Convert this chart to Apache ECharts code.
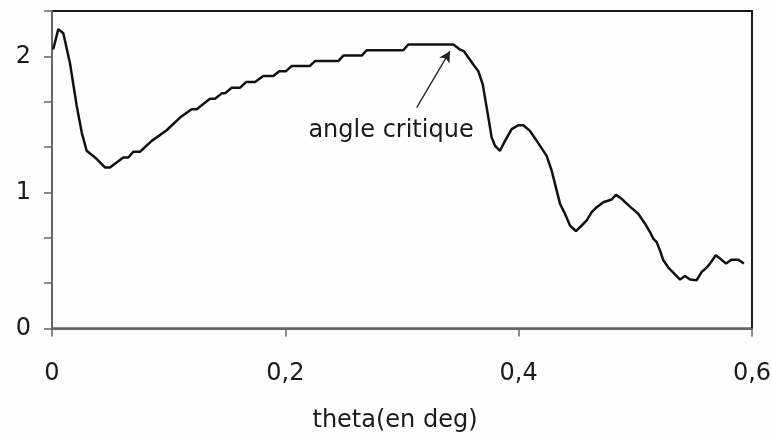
<!DOCTYPE html>
<html>
<head>
<meta charset="utf-8">
<script src="https://cdn.jsdelivr.net/npm/echarts@6/dist/echarts.min.js"></script>
<style>
  html, body { margin: 0; padding: 0; background: #fdfdfd; }
  #chart { width: 772px; height: 437px; }
</style>
</head>
<body>
<div id="chart"></div>
<script>
// Angle (deg) and measured response
const theta = [0.001, 0.0054, 0.0097, 0.0154, 0.0212, 0.0255, 0.0297, 0.0369, 0.0454, 0.0497,
  0.0611, 0.0654, 0.0697, 0.0754, 0.0855, 0.0983, 0.1097, 0.1197, 0.124, 0.1354,
  0.1397, 0.1455, 0.1483, 0.154, 0.1611, 0.1663, 0.174, 0.1811, 0.1897, 0.1948,
  0.2006, 0.2055, 0.2211, 0.2254, 0.2454, 0.2497, 0.2655, 0.2697, 0.3011, 0.3054,
  0.344, 0.3497, 0.3531, 0.3611, 0.3654, 0.3692, 0.3726, 0.3769, 0.3797, 0.384,
  0.3883, 0.394, 0.3997, 0.404, 0.4097, 0.4155, 0.424, 0.4283, 0.4326, 0.4354,
  0.4397, 0.444, 0.4491, 0.454, 0.4583, 0.4626, 0.4669, 0.4726, 0.4797, 0.4834,
  0.4883, 0.4954, 0.5025, 0.5083, 0.5126, 0.5154, 0.5183, 0.5211, 0.524, 0.5283,
  0.534, 0.5383, 0.5426, 0.5469, 0.5526, 0.5569, 0.5612, 0.564, 0.5689, 0.5726,
  0.5777, 0.5826, 0.5883, 0.5931];
const signal = [2.05, 2.20, 2.17, 1.95, 1.635, 1.44, 1.306, 1.257, 1.184, 1.184,
  1.257, 1.257, 1.299, 1.299, 1.379, 1.457, 1.55, 1.611, 1.611, 1.689,
  1.689, 1.728, 1.728, 1.769, 1.769, 1.811, 1.811, 1.855, 1.855, 1.891,
  1.891, 1.93, 1.93, 1.965, 1.965, 2.006, 2.006, 2.045, 2.045, 2.087,
  2.087, 2.05, 2.038, 1.94, 1.891, 1.794, 1.623, 1.403, 1.343, 1.306,
  1.379, 1.465, 1.494, 1.494, 1.452, 1.379, 1.269, 1.16, 1.013, 0.918,
  0.843, 0.757, 0.716, 0.757, 0.794, 0.855, 0.891, 0.928, 0.948, 0.982,
  0.953, 0.896, 0.843, 0.77, 0.708, 0.66, 0.635, 0.574, 0.501, 0.448,
  0.397, 0.36, 0.386, 0.36, 0.355, 0.416, 0.448, 0.477, 0.538, 0.514,
  0.477, 0.506, 0.506, 0.477];

const xTickValues = [0, 0.2, 0.4, 0.6];
const xTickLabels = ['0', '0,2', '0,4', '0,6'];
const yTickLabels = ['0', '1', '2'];

// Annotation: arrow pointing at the critical angle
const arrowTail = [0.3126, 1.623];
const arrowTip = [0.3411, 2.038];
const noteAnchor = [0.2906, 1.456];
const noteText = 'angle critique';

const font = 'DejaVu Sans, Liberation Sans, Arial, sans-serif';

const chart = echarts.init(document.getElementById('chart'), null, { renderer: 'canvas' });
chart.setOption({
  animation: false,
  backgroundColor: '#fdfdfd',
  grid: {
    left: 52, right: 20, top: 11, bottom: 108.5,
    containLabel: false, outerBoundsMode: 'none',
    show: true, borderColor: '#1a1a1a', borderWidth: 2, backgroundColor: '#fefefe'
  },
  xAxis: {
    type: 'value', min: 0, max: 0.6, interval: 0.2,
    name: 'theta(en deg)', nameLocation: 'middle', nameGap: 80,
    nameTextStyle: { fontFamily: font, fontSize: 24, color: '#1a1a1a', padding: [0, 14, 0, 0] },
    axisLine: { show: true, onZero: false, lineStyle: { color: '#666', width: 2 } },
    axisTick: { show: true, inside: false, length: 8, lineStyle: { color: '#666', width: 1.5 } },
    axisLabel: {
      margin: 33, fontFamily: font, fontSize: 24, color: '#1a1a1a',
      formatter: v => {
        const i = xTickValues.findIndex(t => Math.abs(t - v) < 1e-6);
        return i >= 0 ? xTickLabels[i] : '';
      }
    },
    splitLine: { show: false }
  },
  yAxis: {
    type: 'value', min: 0, max: 7 / 3, interval: 1 / 3,
    axisLine: { show: true, onZero: false, lineStyle: { color: '#666', width: 2 } },
    axisTick: { show: true, inside: false, length: 8, lineStyle: { color: '#666', width: 1.5 } },
    axisLabel: {
      margin: 21, fontFamily: font, fontSize: 24, color: '#1a1a1a',
      formatter: v => {
        const r = Math.round(v);
        return Math.abs(v - r) < 0.02 && yTickLabels.includes(String(r)) ? String(r) : '';
      }
    },
    splitLine: { show: false }
  },
  series: [{
    type: 'line',
    data: theta.map((t, i) => [t, signal[i]]),
    showSymbol: false,
    smooth: false,
    lineStyle: { color: '#111', width: 2.5 },
    markLine: {
      silent: true,
      symbol: ['none', 'arrow'],
      symbolSize: [9, 11],
      lineStyle: { color: '#222', width: 1.3, type: 'solid' },
      label: { show: false },
      data: [[{ coord: arrowTail }, { coord: arrowTip }]]
    },
    markPoint: {
      silent: true,
      symbol: 'circle',
      symbolSize: 0,
      label: {
        show: true, position: 'inside', formatter: noteText,
        fontFamily: font, fontSize: 24, color: '#1a1a1a'
      },
      data: [{ coord: noteAnchor }]
    }
  }]
});
</script>
</body>
</html>
